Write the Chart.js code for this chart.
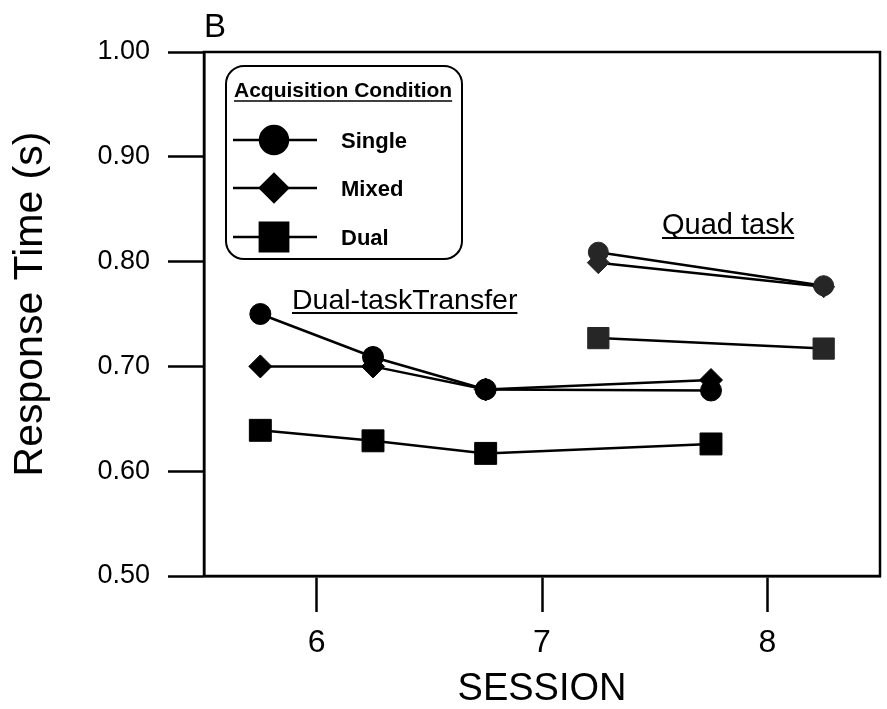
<!DOCTYPE html>
<html>
<head>
<meta charset="utf-8">
<script src="https://cdn.jsdelivr.net/npm/chart.js@4.4.1/dist/chart.umd.min.js"></script>
<style>
  html, body { margin: 0; padding: 0; background: #fff; }
  canvas { display: block; }
</style>
</head>
<body>
<canvas id="rtchart" width="887" height="709"></canvas>
<script>
// sessions (transfer block and quad-task block)
var transferSessions = [5.75, 6.25, 6.75, 7.75];
var quadSessions = [7.25, 8.25];

// Response time (s) by acquisition condition
var singleTransfer = [0.750, 0.709, 0.678, 0.677];
var mixedTransfer = [0.700, 0.700, 0.678, 0.687];
var dualTransfer = [0.639, 0.629, 0.617, 0.626];

var singleQuad = [0.809, 0.777];
var mixedQuad = [0.799, 0.776];
var dualQuad = [0.727, 0.717];

var xTicks = [6, 7, 8];
var yTicks = [0.5, 0.6, 0.7, 0.8, 0.9, 1.0];

var FONT = "'Liberation Sans', Arial, sans-serif";

function pts(xs, ys) {
    return xs.map(function (x, i) { return { x: x, y: ys[i] }; });
}

function series(label, xs, ys, shape, radius, fill) {
    return {
        label: label,
        data: pts(xs, ys),
        borderColor: "#000",
        borderWidth: 2.5,
        pointStyle: shape,
        pointRadius: radius,
        pointBackgroundColor: fill,
        pointBorderColor: fill,
        pointBorderWidth: 1,
        showLine: true,
        fill: false,
        tension: 0
    };
}

// frame, legend box, labels
var extras = {
    id: "extras",
    afterDraw: function (chart) {
        var ctx = chart.ctx;
        var a = chart.chartArea;
        ctx.save();
        ctx.strokeStyle = "#000";
        ctx.lineWidth = 2.5;
        ctx.strokeRect(a.left, a.top, a.right - a.left, a.bottom - a.top);

        ctx.fillStyle = "#000";
        ctx.textBaseline = "alphabetic";

        // panel letter
        ctx.font = "33px " + FONT;
        ctx.fillText("B", 204, 37);

        // y axis title
        ctx.save();
        ctx.translate(42, 304);
        ctx.rotate(-Math.PI / 2);
        ctx.textAlign = "center";
        ctx.font = "41px " + FONT;
        ctx.fillText("Response Time (s)", 0, 0);
        ctx.restore();

        // underlined annotations
        function underlined(txt, x, y, size) {
            ctx.font = size + "px " + FONT;
            ctx.fillText(txt, x, y);
            var w = ctx.measureText(txt).width;
            ctx.lineWidth = 2;
            ctx.beginPath();
            ctx.moveTo(x, y + 4);
            ctx.lineTo(x + w, y + 4);
            ctx.stroke();
        }
        underlined("Quad task", 662, 234, 29);
        underlined("Dual-taskTransfer", 292, 309, 28.5);

        // legend
        var lx = 226, ly = 66, lw = 236, lh = 193, r = 18;
        ctx.lineWidth = 2;
        ctx.beginPath();
        ctx.roundRect(lx, ly, lw, lh, r);
        ctx.stroke();

        ctx.font = "bold 21px " + FONT;
        ctx.fillText("Acquisition Condition", 234, 97);
        var tw = ctx.measureText("Acquisition Condition").width;
        ctx.lineWidth = 1.5;
        ctx.beginPath();
        ctx.moveTo(234, 101);
        ctx.lineTo(234 + tw, 101);
        ctx.stroke();

        var rows = [
            { label: "Single", shape: "circle", rad: 14, y: 140 },
            { label: "Mixed", shape: "rectRot", rad: 14, y: 188 },
            { label: "Dual", shape: "rect", rad: 20, y: 237 }
        ];
        rows.forEach(function (row) {
            ctx.lineWidth = 2.5;
            ctx.beginPath();
            ctx.moveTo(233, row.y);
            ctx.lineTo(317, row.y);
            ctx.stroke();
            Chart.helpers.drawPoint(ctx, { pointStyle: row.shape, radius: row.rad, borderWidth: 1 }, 274, row.y);
            ctx.fill();
            ctx.font = "bold 22px " + FONT;
            ctx.fillText(row.label, 341, row.y + 8);
        });
        ctx.restore();
    }
};

var ctx = document.getElementById("rtchart").getContext("2d");

new Chart(ctx, {
    type: "scatter",
    data: {
        datasets: [
            series("Single", transferSessions, singleTransfer, "circle", 10.5, "#000"),
            series("Mixed", transferSessions, mixedTransfer, "rectRot", 11.5, "#000"),
            series("Dual", transferSessions, dualTransfer, "rect", 15.5, "#000"),
            series("Single quad", quadSessions, singleQuad, "circle", 10, "#262626"),
            series("Mixed quad", quadSessions, mixedQuad, "rectRot", 11, "#262626"),
            series("Dual quad", quadSessions, dualQuad, "rect", 15, "#262626")
        ]
    },
    options: {
        responsive: false,
        animation: false,
        layout: { autoPadding: false, padding: { left: 0, right: 7, top: 52, bottom: 0 } },
        plugins: {
            legend: { display: false },
            tooltip: { enabled: false }
        },
        scales: {
            x: {
                type: "linear",
                min: 5.5,
                max: 8.5,
                afterBuildTicks: function (scale) {
                    scale.ticks = xTicks.map(function (v) { return { value: v }; });
                },
                afterFit: function (scale) {
                    scale.height = 133;
                    scale.paddingLeft = 0;
                    scale.paddingRight = 0;
                },
                grid: {
                    drawOnChartArea: false,
                    drawTicks: true,
                    tickLength: 36,
                    tickWidth: 2.5,
                    tickColor: "#000"
                },
                border: { display: true, color: "#000", width: 2.5 },
                ticks: {
                    color: "#000",
                    padding: 12,
                    font: { family: FONT, size: 32 },
                    callback: function (v) { return v; }
                },
                title: {
                    display: true,
                    text: "SESSION",
                    color: "#000",
                    font: { family: FONT, size: 38, lineHeight: 1 },
                    padding: { top: 0, bottom: 0 }
                }
            },
            y: {
                min: 0.5,
                max: 1.0,
                afterBuildTicks: function (scale) {
                    scale.ticks = yTicks.map(function (v) { return { value: v }; });
                },
                afterFit: function (scale) {
                    scale.width = 204;
                    scale.paddingTop = 0;
                    scale.paddingBottom = 0;
                },
                grid: {
                    drawOnChartArea: false,
                    drawTicks: true,
                    tickLength: 36,
                    tickWidth: 2.5,
                    tickColor: "#000"
                },
                border: { display: true, color: "#000", width: 2.5 },
                ticks: {
                    color: "#000",
                    padding: 18,
                    font: { family: FONT, size: 27 },
                    callback: function (v) { return Number(v).toFixed(2); }
                }
            }
        }
    },
    plugins: [extras]
});
</script>
</body>
</html>
